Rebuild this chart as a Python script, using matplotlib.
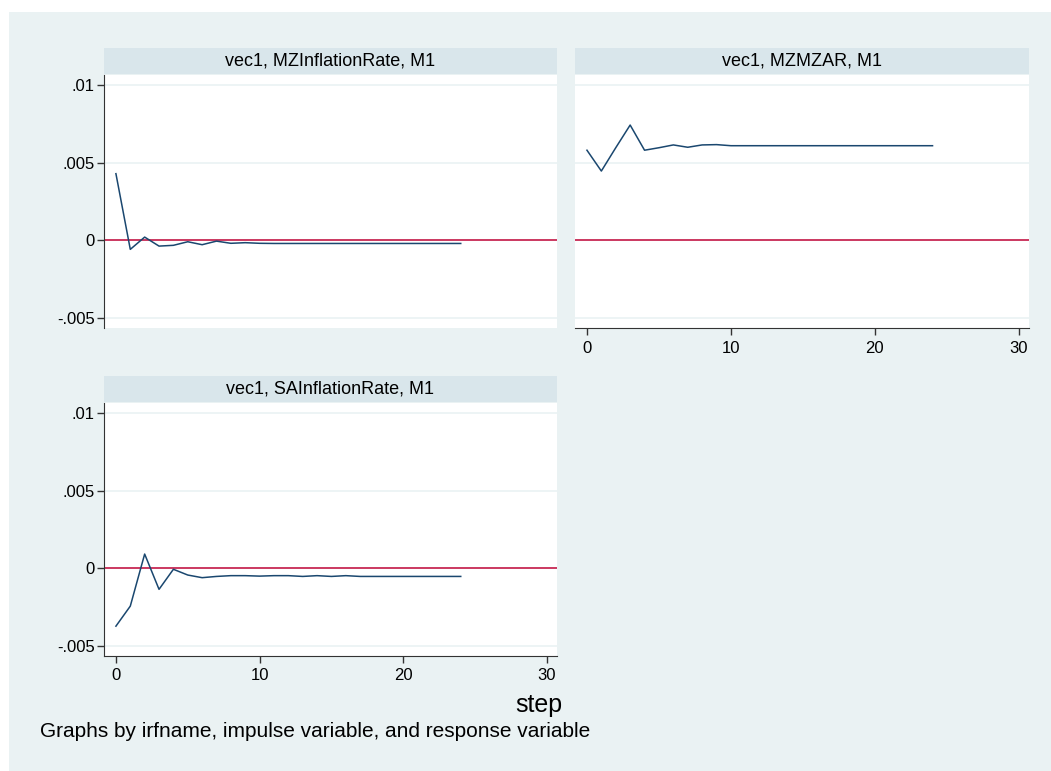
import numpy as np
import matplotlib
matplotlib.use('Agg')
import matplotlib.pyplot as plt
from matplotlib.patches import Rectangle

plt.rcParams['font.family'] = ['Liberation Sans', 'DejaVu Sans']

# impulse-response values by step (0..24)
steps = list(range(25))
irf_mz_infl = [0.00429, -0.00058, 0.00021, -0.00037, -0.00032, -0.00009, -0.00028,
               -0.00005, -0.00019, -0.00015, -0.00019, -0.00020, -0.00020, -0.00020,
               -0.00020, -0.00020, -0.00020, -0.00020, -0.00020, -0.00020, -0.00020,
               -0.00020, -0.00020, -0.00020, -0.00020]
irf_mzmzar = [0.00580, 0.00446, 0.00596, 0.00742, 0.00580, 0.00596, 0.00614,
              0.00599, 0.00614, 0.00616, 0.00609, 0.00609, 0.00609, 0.00609,
              0.00609, 0.00609, 0.00609, 0.00609, 0.00609, 0.00609, 0.00609,
              0.00609, 0.00609, 0.00609, 0.00609]
irf_sa_infl = [-0.00372, -0.00243, 0.00092, -0.00135, -0.00006, -0.00043, -0.00060,
               -0.00052, -0.00047, -0.00047, -0.00050, -0.00047, -0.00047, -0.00052,
               -0.00047, -0.00052, -0.00047, -0.00052, -0.00052, -0.00052, -0.00052,
               -0.00052, -0.00052, -0.00052, -0.00052]

titles = ['vec1, MZInflationRate, M1', 'vec1, MZMZAR, M1', 'vec1, SAInflationRate, M1']
yticks = [-0.005, 0, 0.005, 0.01]
ytick_labels = ['-.005', '0', '.005', '.01']
xticks = [0, 10, 20, 30]

W, H = 1051, 771
BG = '#eaf2f3'
STRIP = '#d9e6eb'
NAVY = '#1a476f'
RED = '#c92a55'

fig = plt.figure(figsize=(W / 100, H / 100), dpi=100, facecolor=BG)
# thin white margin along the top and left edges
fig.patches.append(Rectangle((0, 0), 9 / W, 1, transform=fig.transFigure,
                             facecolor='white', edgecolor='none', zorder=-5))
fig.patches.append(Rectangle((0, 1 - 12 / H), 1, 12 / H, transform=fig.transFigure,
                             facecolor='white', edgecolor='none', zorder=-5))


def px_axes(x0, y0, x1, y1):
    # pixel box (top-left origin) -> figure axes
    return fig.add_axes([x0 / W, 1 - y1 / H, (x1 - x0) / W, (y1 - y0) / H])


def strip(x0, x1, y0, y1, text):
    sax = px_axes(x0, y0, x1, y1)
    sax.set_facecolor(STRIP)
    sax.set_xticks([])
    sax.set_yticks([])
    for s in sax.spines.values():
        s.set_visible(False)
    sax.text(0.5, 0.5, text, ha='center', va='center', fontsize=13,
             transform=sax.transAxes)


panels = [
    (104, 557, 75, 328, irf_mz_infl, titles[0], True, False),
    (575, 1029, 75, 328, irf_mzmzar, titles[1], False, True),
    (104, 557, 403, 656, irf_sa_infl, titles[2], True, True),
]

for x0, x1, y0, y1, vals, title, show_y, show_x in panels:
    strip(x0, x1, y0 - 27, y0 - 1, title)
    ax = px_axes(x0, y0, x1, y1)
    ax.set_facecolor('white')
    ax.set_xlim(-0.83, 30.7)
    ax.set_ylim(-0.00564, 0.01064)
    for yv in yticks:
        ax.axhline(yv, color=BG, lw=1.2, zorder=1)
    ax.axhline(0, color=RED, lw=1.3, zorder=2)
    ax.plot(steps, vals, color=NAVY, lw=1.1, zorder=3)

    for s in ['top', 'right']:
        ax.spines[s].set_visible(False)
    ax.spines['left'].set_visible(show_y)
    ax.spines['bottom'].set_visible(show_x)
    ax.spines['left'].set_color('#333333')
    ax.spines['bottom'].set_color('#333333')

    ax.set_yticks(yticks)
    ax.set_xticks(xticks)
    if show_y:
        ax.set_yticklabels(ytick_labels)
        ax.tick_params(axis='y', direction='out', length=5, width=1,
                       labelsize=12, pad=1.5, color='#333333')
    else:
        ax.tick_params(axis='y', left=False, labelleft=False)
    if show_x:
        ax.set_xticklabels([str(t) for t in xticks])
        ax.tick_params(axis='x', direction='out', length=5, width=1,
                       labelsize=12, pad=4, color='#333333')
    else:
        ax.tick_params(axis='x', bottom=False, labelbottom=False)

fig.text(539 / W, 1 - 712 / H, 'step', ha='center', va='baseline', fontsize=18)
fig.text(40 / W, 1 - 737 / H, 'Graphs by irfname, impulse variable, and response variable',
         ha='left', va='baseline', fontsize=15)

fig.savefig('out.png', dpi=100, facecolor=BG)
